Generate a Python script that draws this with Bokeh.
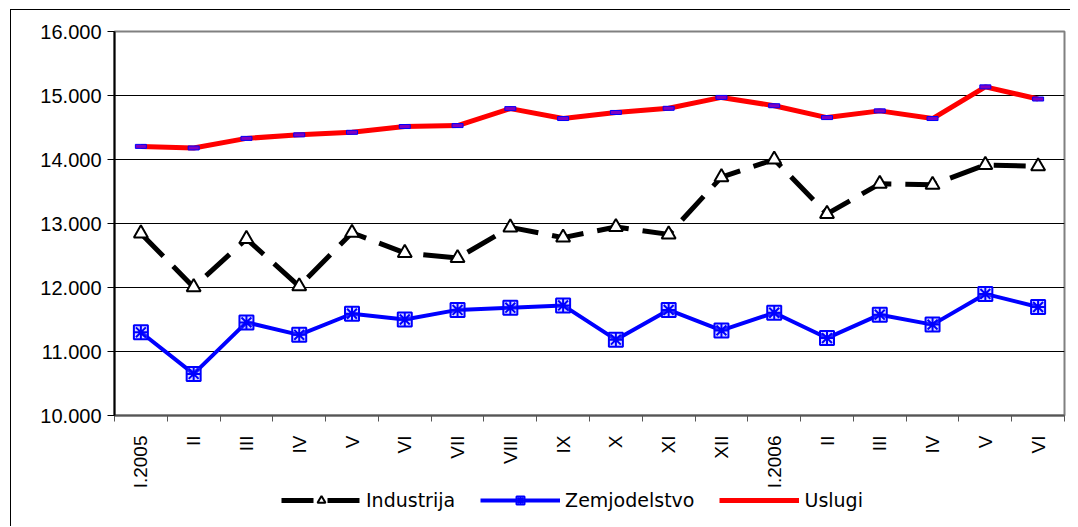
import math
from bokeh.plotting import figure
from bokeh.layouts import column
from bokeh.models import FixedTicker, Legend, LegendItem, ColumnDataSource
from bokeh.embed import file_html
from bokeh.resources import INLINE

months = ["I.2005", "II", "III", "IV", "V", "VI", "VII", "VIII", "IX", "X", "XI", "XII",
          "I.2006", "II", "III", "IV", "V", "VI"]
industrija = [12845, 12005, 12760, 12020, 12855, 12540, 12460, 12940, 12780, 12945,
              12830, 13725, 14000, 13150, 13620, 13605, 13915, 13895]
zemjodelstvo = [11300, 10650, 11455, 11260, 11590, 11500, 11650, 11685, 11720, 11185,
                11650, 11330, 11605, 11210, 11575, 11420, 11900, 11695]
uslugi = [14205, 14180, 14330, 14385, 14425, 14515, 14530, 14795, 14640, 14735,
          14800, 14970, 14840, 14655, 14760, 14640, 15135, 14945]
series_names = ["Industrija", "Zemjodelstvo", "Uslugi"]
y_ticks = [10000, 11000, 12000, 13000, 14000, 15000, 16000]
y_labels = ["10.000", "11.000", "12.000", "13.000", "14.000", "15.000", "16.000"]

n = len(months)
xs = [i + 0.5 for i in range(n)]
src = ColumnDataSource(dict(x=xs, ind=industrija, zem=zemjodelstvo, usl=uslugi))

p = figure(output_backend="svg", toolbar_location=None,
           width=1060, height=481,
           x_range=(0, n), y_range=(10000, 16000),
           min_border_left=103, min_border_top=21, min_border_right=7, min_border_bottom=76,
           background_fill_color="white", border_fill_color="white")
p.margin = (9, 0, 0, 10)
p.styles = {"border-left": "1px solid black", "border-top": "1px solid black"}

p.outline_line_color = "#808080"
p.outline_line_width = 2

# grid
p.xgrid.visible = False
p.ygrid.ticker = FixedTicker(ticks=y_ticks)
p.ygrid.grid_line_color = "black"
p.ygrid.grid_line_width = 1

# y axis
p.yaxis.ticker = FixedTicker(ticks=y_ticks)
p.yaxis.major_label_overrides = {t: l for t, l in zip(y_ticks, y_labels)}
p.yaxis.major_label_text_font = "Liberation Sans"
p.yaxis.major_label_text_font_size = "20px"
p.yaxis.major_label_text_color = "black"
p.yaxis.axis_line_color = "black"
p.yaxis.axis_line_width = 2
p.yaxis.major_tick_out = 7
p.yaxis.major_tick_in = 0
p.yaxis.major_tick_line_color = "black"
p.yaxis.minor_tick_out = 0
p.yaxis.minor_tick_in = 0
p.yaxis.major_label_standoff = 6

# x axis
p.xaxis.ticker = FixedTicker(ticks=xs, minor_ticks=list(range(n + 1)))
p.xaxis.major_label_overrides = {x: m for x, m in zip(xs, months)}
p.xaxis.major_label_orientation = math.pi / 2
p.xaxis.major_label_text_font = "Liberation Sans"
p.xaxis.major_label_text_font_size = "19px"
p.xaxis.major_label_text_color = "black"
p.xaxis.axis_line_color = "#555555"
p.xaxis.axis_line_width = 2
p.xaxis.major_tick_out = 0
p.xaxis.major_tick_in = 0
p.xaxis.minor_tick_out = 6
p.xaxis.minor_tick_in = 0
p.xaxis.minor_tick_line_color = "#555555"
p.xaxis.minor_tick_line_width = 1
p.xaxis.major_label_standoff = 14

ind_line = dict(line_color="black", line_width=5, line_dash="32 14")
ind_mark = dict(marker="triangle", size=14, line_color="black", line_width=2, fill_color="white")
zem_line = dict(line_color="#0000ff", line_width=4)
zem_sq = dict(marker="square", size=14, line_color="#0000ff", line_width=2,
              fill_color="#8080ff", fill_alpha=0.3)
zem_ast = dict(marker="asterisk", size=14, line_color="#0000ff", line_width=2)
usl_line = dict(line_color="#ff0000", line_width=5)

# Industrija
p.line("x", "ind", source=src, **ind_line)
p.scatter("x", "ind", source=src, **ind_mark)
# Zemjodelstvo
p.line("x", "zem", source=src, **zem_line)
p.scatter("x", "zem", source=src, **zem_sq)
p.scatter("x", "zem", source=src, **zem_ast)
# Uslugi
p.line("x", "usl", source=src, **usl_line)
p.rect("x", "usl", source=src, width=11, height=4, width_units="screen",
       height_units="screen", fill_color="#8000c0", line_color="#0000ff", line_width=1)

# legend strip below the chart (its renderers fall outside its own ranges, only the legend shows)
lf = figure(output_backend="svg", toolbar_location=None, width=1060, height=36,
            x_axis_type=None, y_axis_type=None, x_range=(0, n), y_range=(0, 1),
            min_border=0, outline_line_color=None,
            background_fill_color="white", border_fill_color="white")
lf.margin = (0, 0, 0, 10)
lf.styles = {"border-left": "1px solid black"}
r1 = lf.line("x", "ind", source=src, **ind_line)
r1m = lf.scatter("x", "ind", source=src, **ind_mark)
r2 = lf.line("x", "zem", source=src, **zem_line)
r2a = lf.scatter("x", "zem", source=src, **zem_sq)
r2b = lf.scatter("x", "zem", source=src, **zem_ast)
r3 = lf.line("x", "usl", source=src, **usl_line)

legend = Legend(items=[
    LegendItem(label=series_names[0], renderers=[r1, r1m]),
    LegendItem(label=series_names[1], renderers=[r2, r2a, r2b]),
    LegendItem(label=series_names[2], renderers=[r3]),
], orientation="horizontal", location=(167, 15))
legend.label_text_font = "DejaVu Sans"
legend.label_text_font_size = "19px"
legend.label_text_color = "black"
legend.glyph_width = 80
legend.glyph_height = 20
legend.label_standoff = 5
legend.spacing = 25
legend.padding = 0
legend.margin = 0
legend.border_line_color = None
legend.background_fill_alpha = 0
lf.add_layout(legend, "center")

layout = column(p, lf, spacing=0)
open("out.html", "w").write(file_html(layout, INLINE))
